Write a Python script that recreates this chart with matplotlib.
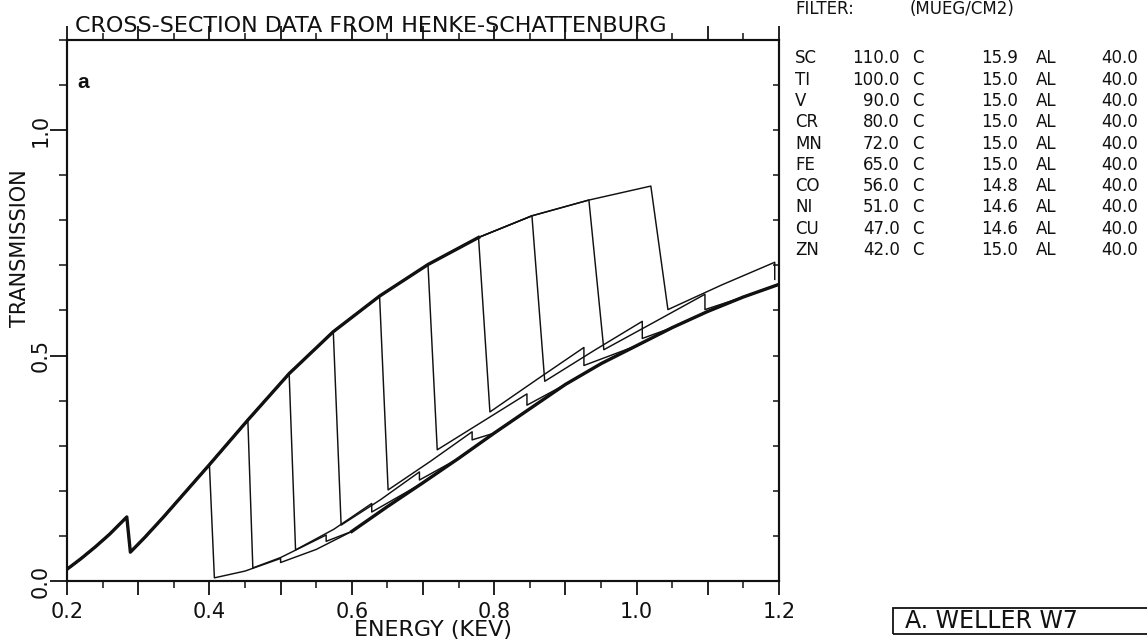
import matplotlib
matplotlib.use('Agg')
import matplotlib.pyplot as plt
import numpy as np
from matplotlib.patches import Rectangle

# filter table (MUEG/CM2)
elements = ['SC', 'TI', 'V', 'CR', 'MN', 'FE', 'CO', 'NI', 'CU', 'ZN']
foil = [110.0, 100.0, 90.0, 80.0, 72.0, 65.0, 56.0, 51.0, 47.0, 42.0]
carbon = [15.9, 15.0, 15.0, 15.0, 15.0, 15.0, 14.8, 14.6, 14.6, 15.0]
alu = [40.0, 40.0, 40.0, 40.0, 40.0, 40.0, 40.0, 40.0, 40.0, 40.0]

# common transmission before the L edges (incl. carbon K edge)
upper_e = [0.200, 0.220, 0.240, 0.260, 0.284, 0.289, 0.310, 0.335, 0.360, 0.380,
           0.400, 0.454, 0.512, 0.574, 0.639, 0.707, 0.778, 0.853, 0.933, 1.020]
upper_t = [0.026, 0.050, 0.076, 0.104, 0.142, 0.064, 0.098, 0.141, 0.186, 0.222,
           0.258, 0.357, 0.460, 0.553, 0.632, 0.702, 0.762, 0.810, 0.845, 0.876]

# per element: L3 edge, bottom after L2, branch point, L1 step
l3_edge = [0.400, 0.454, 0.512, 0.574, 0.639, 0.707, 0.778, 0.853, 0.933, 1.020]
l2_edge = [0.407, 0.461, 0.521, 0.585, 0.651, 0.720, 0.794, 0.871, 0.954, 1.044]
l2_bottom = [0.007, 0.029, 0.069, 0.124, 0.202, 0.291, 0.375, 0.443, 0.513, 0.602]
mid_e = [0.450, 0.500, 0.575, 0.640, 0.710, 0.780, 0.860, 0.940, 1.020, 1.120]
mid_t = [0.022, 0.052, 0.115, 0.180, 0.265, 0.350, 0.447, 0.511, 0.570, 0.657]
l1_edge = [0.500, 0.564, 0.628, 0.695, 0.769, 0.846, 0.926, 1.008, 1.096, 1.194]
l1_top = [0.050, 0.102, 0.172, 0.242, 0.331, 0.415, 0.518, 0.576, 0.636, 0.707]
l1_bottom = [0.041, 0.088, 0.153, 0.224, 0.313, 0.390, 0.478, 0.538, 0.602, 0.669]

# lower bundle after the L1 edges
lower_e = [0.50, 0.55, 0.60, 0.65, 0.70, 0.75, 0.80, 0.85, 0.90, 0.95, 1.00, 1.05, 1.10, 1.15, 1.20]
lower_t = [0.041, 0.070, 0.110, 0.165, 0.218, 0.272, 0.328, 0.382, 0.436, 0.482, 0.522, 0.562, 0.598, 0.630, 0.658]

xticks = [0.2, 0.3, 0.4, 0.5, 0.6, 0.7, 0.8, 0.9, 1.0, 1.1, 1.2]
xticklabels = ['0.2', '', '0.4', '', '0.6', '', '0.8', '', '1.0', '', '1.2']
yticks = [0.0, 0.5, 1.0]
yticklabels = ['0.0', '0.5', '1.0']

ink = '#111111'

fig = plt.figure(figsize=(11.47, 6.43), dpi=100)
W, H = 1147.0, 643.0
ax = fig.add_axes([67 / W, 1 - 581 / H, 712 / W, 541 / H])

# thick overlapping parts
ue = np.array(upper_e)
ut = np.array(upper_t)
ax.plot(ue[ue <= 0.78], ut[ue <= 0.78], color=ink, lw=2.4, solid_joinstyle='round')
le = np.array(lower_e)
lt = np.array(lower_t)
ax.plot(le[le >= 0.60], lt[le >= 0.60], color=ink, lw=2.4, solid_joinstyle='round')

for k in range(len(elements)):
    e = [x for x in upper_e if x <= l3_edge[k]]
    t = upper_t[:len(e)]
    e = e + [l2_edge[k], mid_e[k], l1_edge[k], l1_edge[k]]
    t = t + [l2_bottom[k], mid_t[k], l1_top[k], l1_bottom[k]]
    for x, y in zip(lower_e, lower_t):
        if x > l1_edge[k] + 0.03:
            e.append(x)
            t.append(y)
    ax.plot(e, t, color=ink, lw=1.05)

ax.set_xlim(0.2, 1.2)
ax.set_ylim(0, 1.2)
ax.set_xticks(xticks)
ax.set_xticklabels(xticklabels)
ax.set_xticks(np.arange(0.2, 1.2001, 0.05), minor=True)
ax.set_yticks(yticks)
ax.set_yticklabels(yticklabels, rotation=90, va='center')
ax.set_yticks(np.arange(0, 1.2001, 0.1), minor=True)
ax.tick_params(axis='x', which='major', direction='out', length=10, width=1.3,
               top=True, labelsize=15, pad=5, colors=ink)
ax.tick_params(axis='x', which='minor', direction='out', length=5, width=1.1, top=True, colors=ink)
ax.tick_params(axis='y', which='major', direction='out', length=12, width=1.3,
               right=False, labelsize=15, pad=0, colors=ink)
ax.tick_params(axis='y', which='minor', direction='out', length=6, width=1.1, right=False, colors=ink)
for s in ax.spines.values():
    s.set_linewidth(1.5)
    s.set_color(ink)

axr = ax.twinx()
axr.set_ylim(0, 1.2)
axr.set_yticks(np.arange(0, 1.2001, 0.1))
axr.tick_params(axis='y', direction='in', length=4, width=1.1, labelright=False, colors=ink)
for s in axr.spines.values():
    s.set_linewidth(1.5)
    s.set_color(ink)

fig.text(75 / W, 1 - 32 / H, 'CROSS-SECTION DATA FROM HENKE-SCHATTENBURG',
         fontsize=16, ha='left', va='baseline', color=ink)
fig.text(433 / W, 1 - 630 / H, 'ENERGY (KEV)', fontsize=16, ha='center', va='center', color=ink)
fig.text(20 / W, 1 - 248 / H, 'TRANSMISSION', fontsize=15, rotation=90,
         ha='center', va='center', color=ink)
fig.text(77 / W, 1 - 83 / H, 'a', fontsize=15, fontweight='bold', family='Liberation Sans',
         ha='left', va='center', color=ink)

# filter table
fs = 12
fig.text(795 / W, 1 - 9 / H, 'FILTER:', fontsize=fs, ha='left', va='center', color=ink)
fig.text(910 / W, 1 - 9 / H, '(MUEG/CM2)', fontsize=fs, ha='left', va='center', color=ink)
for i in range(len(elements)):
    y = 1 - (58.3 + 21.3 * i) / H
    fig.text(795 / W, y, elements[i], fontsize=fs, ha='left', va='center', color=ink)
    fig.text(900 / W, y, '%.1f' % foil[i], fontsize=fs, ha='right', va='center', color=ink)
    fig.text(912 / W, y, 'C', fontsize=fs, ha='left', va='center', color=ink)
    fig.text(1018 / W, y, '%.1f' % carbon[i], fontsize=fs, ha='right', va='center', color=ink)
    fig.text(1036 / W, y, 'AL', fontsize=fs, ha='left', va='center', color=ink)
    fig.text(1138 / W, y, '%.1f' % alu[i], fontsize=fs, ha='right', va='center', color=ink)

# name box, cut by the page edge
fig.patches.append(Rectangle((893 / W, 1 - 634 / H), 300 / W, 26 / H, transform=fig.transFigure,
                             fill=False, edgecolor=ink, linewidth=1.3, clip_on=False))
fig.text(905 / W, 1 - 621 / H, 'A. WELLER W7', fontsize=17, ha='left', va='center', color=ink)

fig.savefig('out.png', dpi=100)
